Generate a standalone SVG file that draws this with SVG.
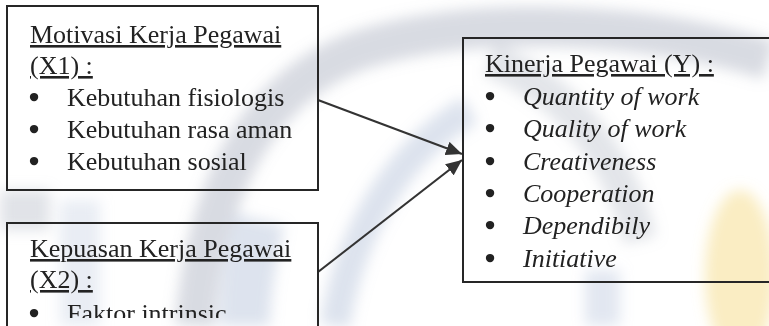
<svg xmlns="http://www.w3.org/2000/svg" width="769" height="326" viewBox="0 0 769 326">
  <style>
    .box { fill: none; stroke: #262626; stroke-width: 2; }
    .t { font-family: "Liberation Serif", "Times New Roman", serif; font-size: 26px; fill: #222; }
    .b { font-family: "Liberation Serif", "Times New Roman", serif; font-size: 26px; fill: #222; stroke: #222; stroke-width: 2.2; text-anchor: middle; }
    .u { text-decoration: underline; }
    .i { font-style: italic; }
    .conn { stroke: #333; stroke-width: 2.2; fill: none; }
  </style>
  <defs>
    <marker id="arr" markerUnits="userSpaceOnUse" markerWidth="18" markerHeight="14" refX="16" refY="7" orient="auto">
      <path d="M0,0 L16,7 L0,14 Z" fill="#333"/>
    </marker>
    <filter id="blur" x="-20%" y="-20%" width="140%" height="140%">
      <feGaussianBlur stdDeviation="7"/>
    </filter>
    <clipPath id="cut">
      <rect x="0" y="0" width="769" height="318"/>
    </clipPath>
  </defs>

  <rect width="769" height="326" fill="#ffffff"/>

  <!-- faint watermark -->
  <g id="watermark" filter="url(#blur)" fill="none">
    <path d="M195,326 C205,200 250,90 360,50 C470,15 640,20 769,60" stroke="#8e99ab" stroke-width="40" opacity="0.35"/>
    <path d="M335,326 C350,230 400,150 470,110" stroke="#9fb0cf" stroke-width="30" opacity="0.35"/>
    <path d="M490,60 C570,90 620,160 640,240" stroke="#9aa3b3" stroke-width="34" opacity="0.28"/>
    <path d="M260,220 C250,260 245,300 245,326" stroke="#9fb0cf" stroke-width="50" opacity="0.35"/>
    <rect x="0" y="190" width="50" height="40" fill="#a8b0bd" opacity="0.35"/>
    <rect x="60" y="200" width="40" height="126" fill="#b6c3dc" opacity="0.3"/>
    <rect x="585" y="270" width="35" height="56" fill="#b6c3dc" opacity="0.4"/>
    <ellipse cx="740" cy="275" rx="35" ry="85" fill="#f3d77a" opacity="0.45"/>
  </g>

  <g id="connectors">
    <line class="conn" x1="318" y1="100" x2="462" y2="154" marker-end="url(#arr)"/>
    <line class="conn" x1="318" y1="272" x2="462" y2="160" marker-end="url(#arr)"/>
  </g>

  <g id="motivasi">
    <rect class="box" x="7" y="6" width="311" height="184" fill="none"/>
    <text class="t u" x="30" y="43">Motivasi Kerja Pegawai</text>
    <text class="t u" x="30" y="74">(X1) :</text>
    <text class="b" x="34" y="106">•</text>
    <text class="t" x="67" y="106">Kebutuhan fisiologis</text>
    <text class="b" x="34" y="138">•</text>
    <text class="t" x="67" y="138">Kebutuhan rasa aman</text>
    <text class="b" x="34" y="170">•</text>
    <text class="t" x="67" y="170">Kebutuhan sosial</text>
  </g>

  <g id="kepuasan">
    <rect class="box" x="7" y="223" width="311" height="130"/>
    <text class="t u" x="30" y="257">Kepuasan Kerja Pegawai</text>
    <text class="t u" x="30" y="288">(X2) :</text>
    <g clip-path="url(#cut)">
      <text class="b" x="34" y="322">•</text>
      <text class="t" x="67" y="322">Faktor intrinsic</text>
    </g>
  </g>

  <g id="kinerja">
    <rect class="box" x="463" y="38" width="330" height="244"/>
    <text class="t u" x="485" y="72">Kinerja Pegawai (Y) :</text>
    <text class="b" x="490" y="105">•</text>
    <text class="t i" x="523" y="105">Quantity of work</text>
    <text class="b" x="490" y="137">•</text>
    <text class="t i" x="523" y="137">Quality of work</text>
    <text class="b" x="490" y="170">•</text>
    <text class="t i" x="523" y="170">Creativeness</text>
    <text class="b" x="490" y="202">•</text>
    <text class="t i" x="523" y="202">Cooperation</text>
    <text class="b" x="490" y="234">•</text>
    <text class="t i" x="523" y="234">Dependibily</text>
    <text class="b" x="490" y="267">•</text>
    <text class="t i" x="523" y="267">Initiative</text>
  </g>
</svg>
